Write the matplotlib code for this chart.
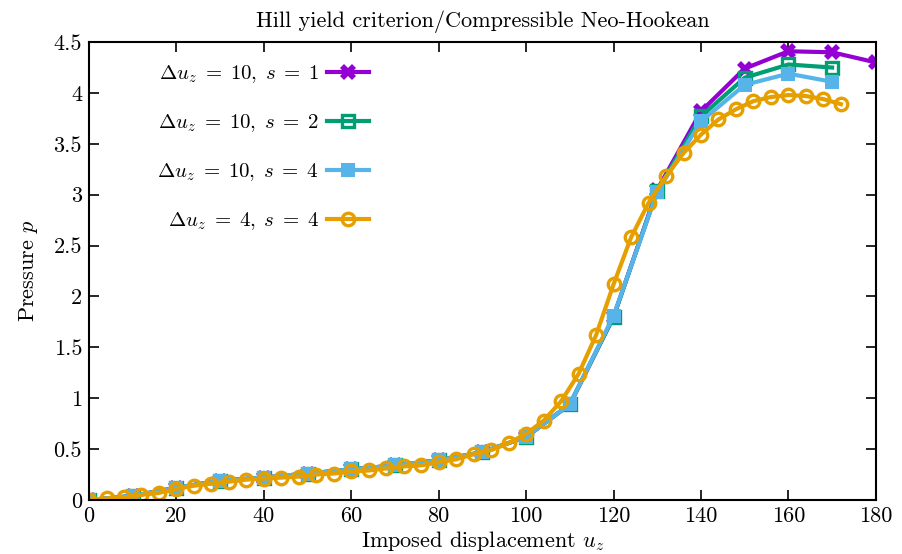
import matplotlib
matplotlib.use("Agg")
import matplotlib.pyplot as plt
import numpy as np

plt.rcParams['font.family'] = 'serif'
plt.rcParams['font.serif'] = ['cmr10']
plt.rcParams['mathtext.fontset'] = 'cm'
plt.rcParams['axes.formatter.use_mathtext'] = True

title = "Hill yield criterion/Compressible Neo-Hookean"
xlabel = r"Imposed displacement $u_z$"
ylabel = r"Pressure $p$"

x10 = [0, 10, 20, 30, 40, 50, 60, 70, 80, 90, 100, 110, 120, 130, 140, 150, 160, 170, 180]
p_s1 = [0.0, 0.04, 0.12, 0.19, 0.22, 0.26, 0.30, 0.34, 0.39, 0.47, 0.62, 0.94, 1.80, 3.05, 3.82, 4.24, 4.41, 4.40, 4.30]
p_s2 = [0.0, 0.04, 0.12, 0.19, 0.22, 0.26, 0.30, 0.34, 0.39, 0.47, 0.62, 0.94, 1.80, 3.04, 3.77, 4.15, 4.28, 4.25]
p_s4 = [0.0, 0.04, 0.12, 0.19, 0.22, 0.26, 0.30, 0.34, 0.39, 0.47, 0.62, 0.94, 1.81, 3.03, 3.72, 4.08, 4.19, 4.11]

x4 = [0, 4, 8, 12, 16, 20, 24, 28, 32, 36, 40, 44, 48, 52, 56, 60, 64, 68, 72, 76, 80, 84,
      88, 92, 96, 100, 104, 108, 112, 116, 120, 124, 128, 132, 136, 140, 144, 148, 152, 156,
      160, 164, 168, 172]
p_d4 = [0.0, 0.015, 0.025, 0.05, 0.07, 0.11, 0.14, 0.16, 0.18, 0.20, 0.21, 0.22, 0.23, 0.25,
        0.26, 0.28, 0.29, 0.31, 0.33, 0.34, 0.37, 0.40, 0.45, 0.49, 0.56, 0.65, 0.78, 0.97,
        1.24, 1.62, 2.12, 2.58, 2.92, 3.18, 3.41, 3.59, 3.74, 3.84, 3.92, 3.96, 3.98, 3.97,
        3.94, 3.89]

labels = [r"$\Delta u_z \;=\; 10,\; s \;=\; 1$", r"$\Delta u_z \;=\; 10,\; s \;=\; 2$",
          r"$\Delta u_z \;=\; 10,\; s \;=\; 4$", r"$\Delta u_z \;=\; 4,\; s \;=\; 4$"]
colors = ["#9400d3", "#009e73", "#56b4e9", "#e69f00"]

xticks = [0, 20, 40, 60, 80, 100, 120, 140, 160, 180]
yticks = [0, 0.5, 1, 1.5, 2, 2.5, 3, 3.5, 4, 4.5]
yticklabels = ["0", "0.5", "1", "1.5", "2", "2.5", "3", "3.5", "4", "4.5"]

fig = plt.figure(figsize=(9.02, 5.54), dpi=100)
ax = fig.add_axes([0.0987, 0.0975, 0.8723, 0.8265])

lw = 3.0
ax.plot(x10, p_s1, color=colors[0], lw=lw, marker='X', ms=11, mew=0, label=labels[0])
ax.plot(x10[:len(p_s2)], p_s2, color=colors[1], lw=lw, marker='s', ms=9, mfc='none', mew=2.4, label=labels[1])
ax.plot(x10[:len(p_s4)], p_s4, color=colors[2], lw=lw, marker='s', ms=10, mew=0, label=labels[2])
ax.plot(x4, p_d4, color=colors[3], lw=lw, marker='o', ms=9, mfc='none', mew=2.4, label=labels[3])

ax.set_xlim(0, 180)
ax.set_ylim(0, 4.5)
ax.set_xticks(xticks)
ax.set_xticklabels([str(t) for t in xticks])
ax.set_yticks(yticks)
ax.set_yticklabels(yticklabels)
ax.tick_params(direction='in', length=7, width=1.2, top=True, right=True, labelsize=16, pad=5)
for s in ax.spines.values():
    s.set_linewidth(1.5)

ax.set_title(title, fontsize=16, pad=11)
ax.set_xlabel(xlabel, fontsize=16, labelpad=2)
ax.set_ylabel(ylabel, fontsize=16, labelpad=10)

leg = ax.legend(loc='upper left', bbox_to_anchor=(0.063, 0.995), frameon=False, fontsize=15,
                markerfirst=False, handlelength=2.0, labelspacing=1.3, handletextpad=0.4,
                alignment='right')
for t in leg.get_texts():
    t.set_ha('right')

fig.savefig("out.png", dpi=100)
